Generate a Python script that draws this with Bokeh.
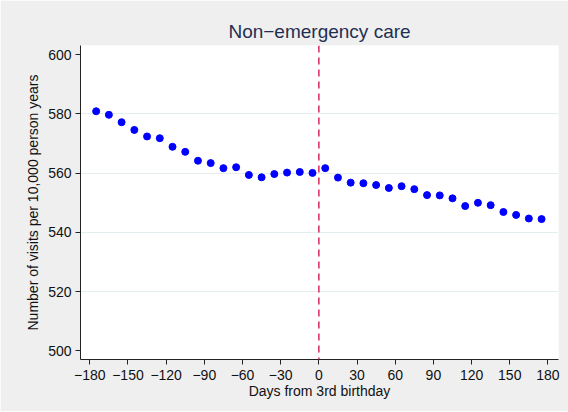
from bokeh.plotting import figure
from bokeh.models import ColumnDataSource, Span, FixedTicker, Range1d
from bokeh.embed import file_html
from bokeh.resources import INLINE

# ---- data ----
days = [-175, -165, -155, -145, -135, -125, -115, -105, -95, -85, -75, -65,
        -55, -45, -35, -25, -15, -5, 5, 15, 25, 35, 45, 55,
        65, 75, 85, 95, 105, 115, 125, 135, 145, 155, 165, 175]
visits = [580.9, 579.7, 577.2, 574.6, 572.4, 571.8, 568.9, 567.2, 564.2, 563.4, 561.7, 562.0,
          559.4, 558.6, 559.7, 560.2, 560.4, 560.1, 561.7, 558.5, 556.8, 556.6, 556.0, 555.0,
          555.6, 554.6, 552.6, 552.5, 551.5, 548.9, 550.0, 549.2, 546.9, 545.9, 544.7, 544.5]
x_ticks = [-180, -150, -120, -90, -60, -30, 0, 30, 60, 90, 120, 150, 180]
x_tick_labels = ["\u2212180", "\u2212150", "\u2212120", "\u221290", "\u221260", "\u221230",
                 "0", "30", "60", "90", "120", "150", "180"]
y_ticks = [500, 520, 540, 560, 580, 600]
grid_values = [520, 540, 560, 580]
cutoff = 0
title_text = "Non\u2212emergency care"
x_title = "Days from 3rd birthday"
y_title = "Number of visits per 10,000 person years"

FONT = "Liberation Sans"
BG = "#efefef"

src = ColumnDataSource(data=dict(days=days, visits=visits))

p = figure(width=568, height=411, output_backend="svg", toolbar_location=None,
           x_range=Range1d(-187.3, 188.3), y_range=Range1d(497.1, 603.1),
           min_border_left=80, min_border_right=10, min_border_top=45,
           min_border_bottom=52)

p.background_fill_color = "white"
p.border_fill_color = BG
p.outline_line_color = None

p.title.text = title_text
p.title.align = "center"
p.title.text_font = FONT
p.title.text_font_size = "19px"
p.title.text_font_style = "normal"
p.title.text_color = "#1f2f52"
p.title.standoff = 8

p.xgrid.visible = False
p.ygrid.ticker = FixedTicker(ticks=grid_values)
p.ygrid.grid_line_color = "#e4eef0"
p.ygrid.grid_line_width = 1

p.xaxis.ticker = FixedTicker(ticks=x_ticks)
p.xaxis.major_label_overrides = {t: l for t, l in zip(x_ticks, x_tick_labels)}
p.yaxis.ticker = FixedTicker(ticks=y_ticks)
p.xaxis.axis_label = x_title
p.yaxis.axis_label = y_title

for ax in (p.xaxis, p.yaxis):
    ax.axis_line_color = "#222222"
    ax.axis_line_width = 1
    ax.major_tick_line_color = "#222222"
    ax.major_tick_out = 5
    ax.major_tick_in = 0
    ax.minor_tick_line_color = None
    ax.major_label_text_font = FONT
    ax.major_label_text_font_size = "14px"
    ax.major_label_text_color = "#111111"
    ax.axis_label_text_font = FONT
    ax.axis_label_text_font_size = "14px"
    ax.axis_label_text_font_style = "normal"
    ax.axis_label_text_color = "#111111"

p.xaxis.major_label_standoff = 5
p.xaxis.axis_label_standoff = 0
p.yaxis.major_label_standoff = 4
p.yaxis.axis_label_standoff = 4

p.add_layout(Span(location=cutoff, dimension="height", line_color="#d8285a",
                  line_width=1.5, line_dash="7 5"))

p.scatter(x="days", y="visits", source=src, size=7, fill_color="blue",
          line_color="blue", marker="circle")

open("out.html", "w").write(file_html(p, INLINE))
